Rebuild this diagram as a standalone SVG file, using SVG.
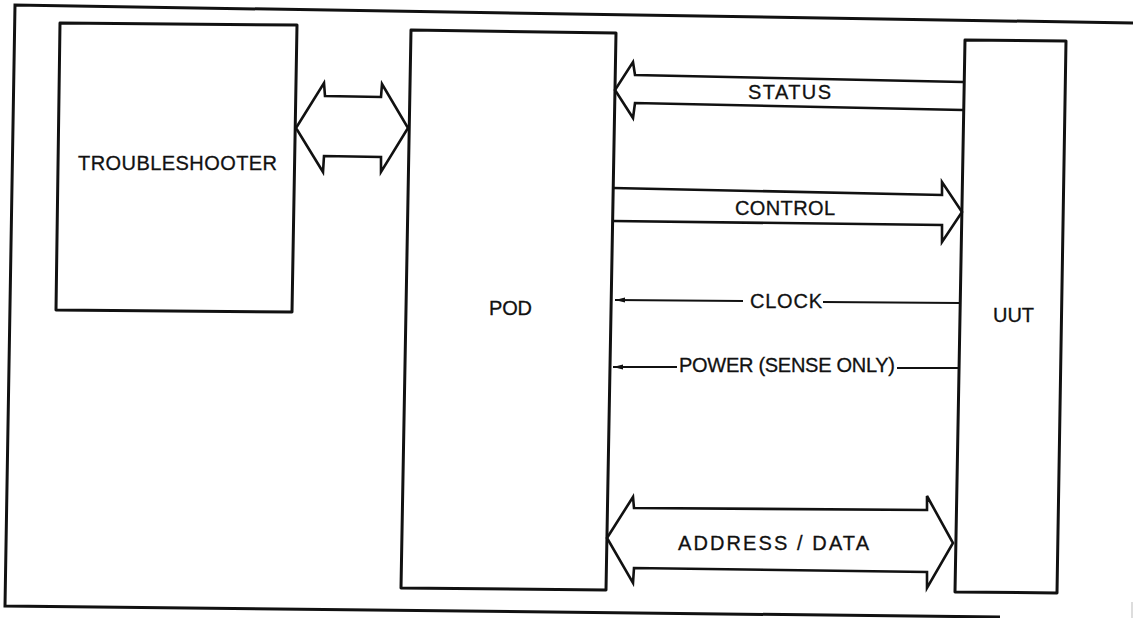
<svg xmlns="http://www.w3.org/2000/svg" width="1133" height="618" viewBox="0 0 1133 618">
<style>
.box{fill:none;stroke:#111;stroke-width:3;stroke-linejoin:round}
.frame{fill:none;stroke:#111;stroke-width:3}
.bus{fill:none;stroke:#111;stroke-width:2.6;stroke-linejoin:miter}
.wire{fill:none;stroke:#111;stroke-width:2}
.lbl{font-family:"Liberation Sans",Arial,sans-serif;font-size:20px;fill:#111;stroke:#111;stroke-width:0.3}
</style>
<defs>
<marker id="ah" viewBox="0 0 10 6" refX="10" refY="3" markerWidth="10" markerHeight="6" markerUnits="userSpaceOnUse" orient="auto">
<path d="M0,0.5 L10,3 L0,5.5 Z" fill="#111"/>
</marker>
</defs>
<rect width="1133" height="618" fill="#fff"/>
<path class="frame" d="M1133,23 L15,5 L5,606 L1000,617"/>
<line x1="1132" y1="602" x2="1132" y2="618" stroke="#bbb" stroke-width="1"/>
<g id="troubleshooter">
<path class="box" d="M60,23 L297,25 L292,312 L56,310 Z"/>
<text class="lbl" x="78" y="170" textLength="199" lengthAdjust="spacing">TROUBLESHOOTER</text>
</g>
<g id="pod">
<path class="box" d="M411,30 L616,33 L606,590 L401,588 Z"/>
<text class="lbl" x="489" y="315" textLength="43" lengthAdjust="spacing">POD</text>
</g>
<g id="uut">
<path class="box" d="M965,40 L1066,41 L1057,593 L955,592 Z"/>
<text class="lbl" x="993" y="322" textLength="41" lengthAdjust="spacing">UUT</text>
</g>
<g id="connectors">
<path class="bus" d="M296,128 L324,83 L325,96 L381,97 L382,84 L408,128 L381,172 L381,157 L324,156 L323,172 Z"/>
<path class="bus" d="M963,82 L635,75 L633,62 L615,90 L633,118 L635,103 L963,110"/>
<text class="lbl" x="748" y="99" textLength="83" lengthAdjust="spacing">STATUS</text>
<path class="bus" d="M613,188 L942,195 L942,182 L962,212 L942,242 L942,225 L613,221"/>
<text class="lbl" x="735" y="215" textLength="100" lengthAdjust="spacing">CONTROL</text>
<path class="wire" d="M743,301 L615,300" marker-end="url(#ah)"/>
<path class="wire" d="M960,303 L823,302"/>
<text class="lbl" x="750" y="308" textLength="72" lengthAdjust="spacing">CLOCK</text>
<path class="wire" d="M677,367 L613,367" marker-end="url(#ah)"/>
<path class="wire" d="M959,368 L897,368"/>
<text class="lbl" x="679" y="372" textLength="216" lengthAdjust="spacing">POWER (SENSE ONLY)</text>
<path class="bus" d="M607,538 L633,497 L634,508 L927,510 L927,496 L953,543 L927,588 L927,572 L634,568 L633,583 Z"/>
<text class="lbl" x="678" y="550" textLength="191" lengthAdjust="spacing">ADDRESS / DATA</text>
</g>
</svg>
